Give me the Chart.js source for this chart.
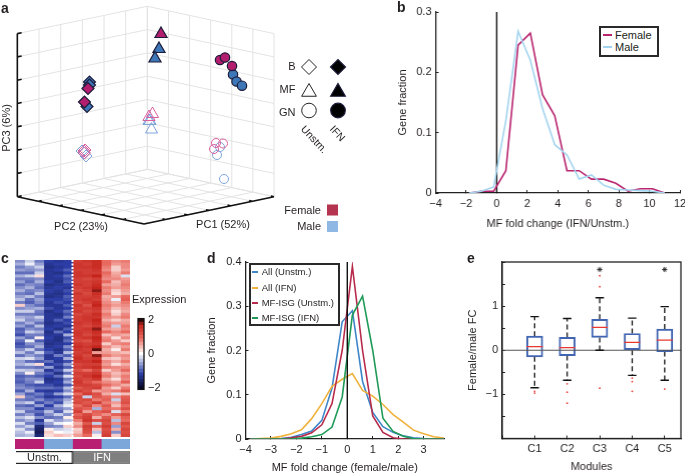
<!DOCTYPE html>
<html>
<head>
<meta charset="utf-8">
<style>
  html, body { margin: 0; padding: 0; background: #fff; }
  #page { position: relative; width: 685px; height: 473px; overflow: hidden; font-family: "Liberation Sans", Arial, sans-serif; color: #231f20; }
  #page canvas { position: absolute; }
  .txt { position: absolute; white-space: nowrap; line-height: 1; font-size: 11px; }
</style>
</head>
<body>
<div id="page"></div>
<script src="https://cdn.jsdelivr.net/npm/chart.js@4"></script>
<script>
// --- panel a: markers as they sit on the projected view
var ifnDiamondsFemale = [[88, 88.5], [84.5, 102]];
var ifnDiamondsMale = [[89.5, 82], [87, 106.5], [89.5, 85]];
var ifnTrianglesFemale = [[161, 34]];
var ifnTrianglesMale = [[159, 49], [155, 58.5]];
var ifnCirclesFemale = [[220, 60], [225, 57.5], [232, 66]];
var ifnCirclesMale = [[233, 74.5], [236.5, 81.5], [242, 85.7]];
var unstmDiamondsFemale = [[84, 151], [85, 150], [84.5, 153]];
var unstmDiamondsMale = [[82, 151], [86, 156], [84, 153]];
var unstmTrianglesFemale = [[152.5, 114], [149, 117]];
var unstmTrianglesMale = [[150, 121], [151.5, 129.5], [149, 121]];
var unstmCirclesFemale = [[216, 143], [223, 143.5], [214, 149]];
var unstmCirclesMale = [[220, 147], [217, 155], [224, 179]];
var pc1Ticks = [0, 1, 2, 3, 4, 5, 6];
var pc2Ticks = [0, 1, 2, 3, 4, 5, 6];
var pc3Ticks = [0, 1, 2, 3, 4, 5, 6, 7];

// --- panel b
var foldBins = [-1.8, -1, -0.2, 0.6, 1.4, 2.2, 3, 3.8, 4.6, 5.4, 6.2, 7, 7.8, 8.6, 9.4, 10.2, 11];
var femaleFraction = [0, 0.003, 0.003, 0.037, 0.245, 0.265, 0.163, 0.128, 0.037, 0.037, 0.023, 0.023, 0.016, 0.003, 0.007, 0.007, 0];
var maleFraction = [0, 0.003, 0.01, 0.12, 0.268, 0.22, 0.14, 0.08, 0.063, 0.023, 0.03, 0.013, 0.006, 0.005, 0.004, 0.003, 0];

// --- panel c: expression, in tenths (columns: female/male unstm., female/male IFN)
var heatTenths = [
  [-7,-3,-8,-12,-13,-12,14,15,16,9,7,8],
  [-5,-1,-6,-13,-12,-12,15,14,16,9,6,7],
  [-8,-6,-3,-14,-13,-12,15,15,16,8,3,7],
  [-6,-7,-6,-13,-12,-10,14,14,15,7,3,6],
  [-9,-9,-3,-13,-14,-12,15,14,14,9,5,8],
  [-5,-3,2,-13,-12,-9,15,15,17,8,6,-2],
  [-8,-8,-7,-13,-13,-11,14,13,14,7,7,6],
  [-6,-9,-5,-12,-14,-10,14,14,15,9,4,7],
  [-9,-7,-8,-14,-13,-12,15,14,16,6,5,8],
  [-7,-5,-9,-13,-12,-13,14,15,17,8,6,7],
  [-5,-8,-7,-12,-13,-11,13,14,18,7,3,6],
  [-8,-9,-4,-13,-14,-12,15,13,16,8,2,5],
  [-6,-4,-8,-14,-13,-10,14,14,15,5,6,9],
  [-4,-9,-6,-12,-12,-11,14,15,14,6,-1,10],
  [-8,-10,-7,-13,-11,-12,13,14,16,7,5,8],
  [3,-7,-9,-13,-13,-10,15,12,17,8,6,7],
  [-7,-6,-5,-11,-13,-12,14,14,15,7,4,6],
  [-3,-3,-8,-14,-12,-9,15,13,14,6,2,5],
  [-8,-8,-9,-13,-14,-11,13,14,16,8,3,7],
  [-5,-6,-3,-13,-13,-8,14,15,15,7,6,8],
  [-3,-7,-6,-13,-10,-12,14,15,17,5,3,5],
  [-8,-5,-9,-14,-13,-11,15,14,16,7,6,6],
  [-6,-9,-4,-13,-12,-13,14,13,15,8,-3,8],
  [-10,-7,-8,-12,-14,-10,14,15,18,6,5,7],
  [-9,-3,-5,-14,-9,-12,15,14,16,9,7,9],
  [-11,-8,-8,-13,-13,-5,15,13,15,4,6,5],
  [-6,-9,1,-12,-14,-11,14,15,17,7,2,7],
  [-9,-1,-10,-13,-14,-9,13,12,16,8,6,3],
  [-11,-7,-7,-14,-13,-12,15,14,15,3,7,8],
  [-10,-9,-5,-13,-12,-7,16,15,17,7,4,6],
  [-7,-3,-9,-12,-14,-10,15,14,19,5,1,8],
  [-4,-8,-3,-10,-13,-4,14,15,6,6,5,4],
  [-9,-6,-8,-13,-8,-10,15,13,18,8,6,7],
  [-3,-2,-6,-13,-12,-5,16,14,15,4,3,6],
  [-6,-9,-10,-9,-13,-11,15,15,17,7,5,8],
  [-5,-3,2,-12,-11,-6,13,14,14,6,2,5],
  [-8,-8,-9,-6,-13,-10,14,15,16,8,7,7],
  [-3,-4,-5,-13,-10,-3,12,9,13,3,6,9],
  [-7,1,-8,-10,-14,-9,14,14,15,7,4,6],
  [-10,-9,-10,-12,-9,-2,13,15,17,8,5,8],
  [-9,-7,-7,-14,-13,-8,14,13,15,5,2,7],
  [-10,-8,-3,-13,-12,-5,15,12,9,7,6,10],
  [-8,-10,-11,-11,-13,-10,14,14,13,9,7,5],
  [-7,-8,-9,-9,-10,-4,11,13,14,6,3,8],
  [-10,-5,-12,-13,-12,-7,14,12,6,7,8,11],
  [-6,-10,-8,-11,-6,-2,9,14,12,5,-2,4],
  [3,-8,-10,-13,-12,-9,13,-3,11,9,7,10],
  [-8,-9,-7,-10,-9,-5,12,13,8,10,-3,11],
  [-5,-3,-11,-8,-11,-3,13,11,14,8,6,12],
  [-9,-10,-6,-12,-5,-1,9,13,7,11,4,9],
  [-7,-7,-12,-9,-8,-6,12,10,-5,9,8,12],
  [-3,-9,-9,-4,-10,-2,14,6,10,12,-2,8],
  [-8,-6,-11,-7,-3,-7,10,13,9,7,10,13],
  [-4,-2,-7,-9,-8,1,12,14,5,11,6,10],
  [-7,-5,-13,-2,-6,-4,8,15,12,13,-4,9],
  [-2,-8,-10,-6,-1,0,5,11,-3,12,7,13],
  [-6,-3,-15,-8,-7,3,7,14,10,14,-6,11],
  [-2,-7,-16,1,-3,-2,3,13,4,12,5,13],
  [-4,-1,-17,3,0,-1,4,12,-4,13,-7,12],
  [-5,-4,-15,2,4,3,6,9,1,14,3,13]
];
var stripColors = ['#b81f72', '#7ba7db', '#b81f72', '#7ba7db'];
var stripSpans = [3, 3, 3, 3];
var conditionSpans = [6, 6];
var conditionNames = ['Unstm.', 'IFN'];
var colorbarLevels = [2, 1.8, 1.6, 1.4, 1.2, 1, 0.8, 0.6, 0.4, 0.2, 0, -0.2, -0.4, -0.6, -0.8, -1, -1.2, -1.4, -1.6, -1.8, -2];

// --- panel d
var ratioBins = [-3.8, -3.4, -3, -2.6, -2.2, -1.8, -1.4, -1, -0.6, -0.2, 0.2, 0.6, 1, 1.4, 1.8, 2.2, 2.6, 3, 3.4, 3.8];
var allUnstm = [0, 0, 0, 0.001, 0.004, 0.01, 0.018, 0.042, 0.115, 0.265, 0.29, 0.13, 0.06, 0.028, 0.015, 0.007, 0.003, 0.001, 0, 0];
var allIfn = [0, 0.001, 0.002, 0.006, 0.012, 0.021, 0.046, 0.08, 0.119, 0.135, 0.148, 0.11, 0.097, 0.078, 0.055, 0.038, 0.02, 0.012, 0.005, 0.002];
var isgUnstm = [0, 0, 0, 0, 0.003, 0.006, 0.014, 0.032, 0.08, 0.2, 0.39, 0.2, 0.052, 0.015, 0.003, 0, 0, 0, 0, 0];
var isgIfn = [0, 0, 0, 0, 0, 0.002, 0.005, 0.01, 0.027, 0.095, 0.28, 0.323, 0.2, 0.047, 0.017, 0.006, 0.001, 0, 0, 0];

// --- panel e
var modules = ['C1', 'C2', 'C3', 'C4', 'C5'];
var boxQ1 = [-0.15, -0.12, 0.29, 0, -0.03];
var boxQ3 = [0.32, 0.29, 0.7, 0.38, 0.48];
var boxMedian = [0.08, 0.06, 0.52, 0.18, 0.23];
var whiskerHigh = [0.76, 0.72, 1.19, 0.73, 0.99];
var whiskerLow = [-0.85, -0.68, 0, -0.57, -0.68];
var outliers = [[-0.93, -0.97], [-0.76, -0.95, -1.2], [1.69, 1.44, -0.86], [-0.63, -0.71, -0.93], [-0.88]];
var starModules = [3, 5];
var starLevel = 1.83;

var page = document.getElementById('page');
var INK = '#231f20';
var GAP = { x: NaN, y: NaN };

Chart.defaults.font.family = '"Liberation Sans", Arial, sans-serif';
Chart.defaults.font.size = 11;
Chart.defaults.color = INK;
Chart.defaults.animation = false;
Chart.defaults.responsive = false;
Chart.defaults.devicePixelRatio = 1;
Chart.defaults.layout.autoPadding = false;
Chart.defaults.plugins.legend.display = false;
Chart.defaults.plugins.tooltip.enabled = false;

function addCanvas(x, y, w, h) {
  var c = document.createElement('canvas');
  c.width = w; c.height = h;
  c.style.left = x + 'px'; c.style.top = y + 'px';
  c.style.width = w + 'px'; c.style.height = h + 'px';
  page.appendChild(c);
  return c;
}

// text placed on the page; anchor l/c/r, rot in degrees
function putText(t, x, y, o) {
  o = o || {};
  var d = document.createElement('div');
  d.className = 'txt';
  d.textContent = t;
  d.style.left = x + 'px'; d.style.top = y + 'px';
  if (o.size) d.style.fontSize = o.size + 'px';
  if (o.bold) d.style.fontWeight = 'bold';
  if (o.color) d.style.color = o.color;
  var shift = o.anchor === 'r' ? '-100%' : o.anchor === 'c' ? '-50%' : '0';
  d.style.transformOrigin = o.anchor === 'l' || !o.anchor ? '0 50%' : '50% 50%';
  d.style.transform = 'translate(' + shift + ',-50%)' + (o.rot ? ' rotate(' + o.rot + 'deg)' : '');
  page.appendChild(d);
}

function boxedLegend(box, items, o) {
  var d = document.createElement('div');
  d.style.cssText = 'position:absolute;box-sizing:border-box;background:#fff;border:2px solid #2a2a2a;left:' + box[0] + 'px;top:' + box[1] + 'px;width:' + (box[2] - box[0]) + 'px;height:' + (box[3] - box[1]) + 'px';
  page.appendChild(d);
  items.forEach(function (it, i) {
    var s = document.createElement('div');
    s.style.cssText = 'position:absolute;height:2px;background:' + it.color + ';left:' + o.lineX + 'px;width:' + o.lineW + 'px;top:' + Math.round(o.rows[i] - 1) + 'px';
    page.appendChild(s);
    putText(it.name, o.textX, o.rows[i], { size: o.size });
  });
}

// chart whose plot area lands exactly on the given page rectangle
function plotChart(area, leftRoom, bottomRoom, config) {
  var cx = area[0] - leftRoom, cy = area[1] - 20;
  var canvas = addCanvas(cx, cy, area[2] - area[0] + leftRoom + 20, area[3] - area[1] + 20 + bottomRoom);
  config.options.layout = { padding: { left: 0, top: 20, right: 20, bottom: 0 } };
  config.options.scales.x.afterFit = function (s) { s.height = bottomRoom; };
  config.options.scales.y.afterFit = function (s) { s.width = leftRoom; };
  return new Chart(canvas, config);
}

function curve(xs, ys, color, label) {
  return { label: label, data: xs.map(function (x, i) { return { x: x, y: ys[i] }; }), showLine: true, borderColor: color, borderWidth: 1.6, pointRadius: 0, fill: false };
}
function zeroLine(top) {
  return { data: [{ x: 0, y: 0 }, { x: 0, y: top }], showLine: true, borderColor: '#111', borderWidth: 1.4, pointRadius: 0 };
}
function axisStyle(extra) {
  var s = {
    border: { display: true, color: '#222', width: 1.3 },
    grid: { drawOnChartArea: false, color: '#222', lineWidth: 1, tickLength: -3 },
    ticks: { padding: 7, color: INK, maxRotation: 0, font: { size: 11 } }
  };
  for (var k in extra) s[k] = extra[k];
  return s;
}
function minusTick(v) {
  return String(v).replace('-', '\u2212');
}

// ---------- panel a
var proj = function (a, b, c) {
  return { x: 144 + a * 21.67 - b * 21.11, y: 224 - (a + b) * 4.55 - c * 23.3 };
};
function segs(list) {
  var out = [];
  list.forEach(function (s) { out.push(s[0], s[1], GAP); });
  return out;
}
var gridSegs = [];
pc1Ticks.forEach(function (a) {
  gridSegs.push([proj(a, 0, 0), proj(a, 6, 0)]);          // floor
  gridSegs.push([proj(a, 6, 0), proj(a, 6, 7)]);          // left wall
});
pc2Ticks.forEach(function (b) {
  gridSegs.push([proj(0, b, 0), proj(6, b, 0)]);          // floor
  gridSegs.push([proj(6, b, 0), proj(6, b, 7)]);          // right wall
});
pc3Ticks.forEach(function (c) {
  gridSegs.push([proj(0, 6, c), proj(6, 6, c)]);
  gridSegs.push([proj(6, 6, c), proj(6, 0, c)]);
});
var axisSegs = [
  [proj(0, 6, 0), proj(0, 6, 7)],
  [proj(0, 0, 0), proj(0, 6, 0)],
  [proj(0, 0, 0), proj(6, 0, 0)]
];
pc3Ticks.forEach(function (c) { axisSegs.push([proj(0, 6, c), proj(0.2, 6, c)]); });
pc2Ticks.forEach(function (b) { axisSegs.push([proj(0, b, 0), proj(0.15, b, 0)]); });
pc1Ticks.forEach(function (a) { axisSegs.push([proj(a, 0, 0), proj(a, 0.15, 0)]); });

var PINK = '#b31e6f', BLUE = '#3d77b8', PINK_OPEN = '#d9609f', BLUE_OPEN = '#7da5dc', EDGE = '#1d1c3a';
function pts(list) { return list.map(function (p) { return { x: p[0], y: p[1] }; }); }
function solid(list, style, r, color, edge) {
  return { type: 'scatter', data: pts(list), pointStyle: style, pointRadius: r, pointBackgroundColor: color, pointBorderColor: edge || EDGE, pointBorderWidth: edge ? 0 : 1.2 };
}
function hollow(list, style, r, color) {
  return { type: 'scatter', data: pts(list), pointStyle: style, pointRadius: r, pointBackgroundColor: 'rgba(255,255,255,0)', pointBorderColor: color, pointBorderWidth: 1 };
}
new Chart(addCanvas(0, 0, 360, 240), {
  type: 'scatter',
  data: {
    datasets: [
      solid([[338, 67]], 'rectRot', 7.5, '#000'),
      solid([[338, 92]], 'triangle', 8.5, '#000'),
      solid([[338, 110.5]], 'circle', 7.3, '#000'),
      hollow([[309, 67]], 'rectRot', 7.5, '#222'),
      hollow([[309, 92]], 'triangle', 8.5, '#222'),
      hollow([[309, 110.5]], 'circle', 7.3, '#222'),
      solid([[332.5, 210]], 'rect', 7.8, '#b5344f', '#b5344f'),
      solid([[332.5, 226.5]], 'rect', 7.8, '#8fb8e4', '#8fb8e4'),
      solid(ifnDiamondsFemale, 'rectRot', 6, PINK),
      solid(ifnDiamondsMale, 'rectRot', 6, BLUE),
      solid(ifnTrianglesFemale, 'triangle', 7, PINK),
      solid(ifnTrianglesMale, 'triangle', 7, BLUE),
      solid(ifnCirclesFemale, 'circle', 4.7, PINK),
      solid(ifnCirclesMale, 'circle', 4.7, BLUE),
      hollow(unstmDiamondsFemale, 'rectRot', 6, PINK_OPEN),
      hollow(unstmDiamondsMale, 'rectRot', 6, BLUE_OPEN),
      hollow(unstmTrianglesFemale, 'triangle', 7, PINK_OPEN),
      hollow(unstmTrianglesMale, 'triangle', 7, BLUE_OPEN),
      hollow(unstmCirclesFemale, 'circle', 4.5, PINK_OPEN),
      hollow(unstmCirclesMale, 'circle', 4.5, BLUE_OPEN),
      { data: segs(axisSegs), showLine: true, borderColor: '#111', borderWidth: 1.6, pointRadius: 0 },
      { data: segs(gridSegs), showLine: true, borderColor: '#e3e3e3', borderWidth: 1, pointRadius: 0 }
    ]
  },
  options: {
    clip: false,
    layout: { padding: 0 },
    scales: {
      x: { type: 'linear', display: false, min: 0, max: 360 },
      y: { type: 'linear', display: false, min: 0, max: 240, reverse: true }
    }
  }
});
putText('a', 1, 8, { size: 14, bold: true });
putText('PC2 (23%)', 81, 226, { anchor: 'c' });
putText('PC1 (52%)', 223, 224, { anchor: 'c' });
putText('PC3 (6%)', 6, 128, { anchor: 'c', rot: -90 });
putText('B', 295.5, 65.5, { anchor: 'r' });
putText('MF', 295.5, 88.5, { anchor: 'r' });
putText('GN', 295.5, 111.5, { anchor: 'r' });
putText('Unstm.', 303, 127, { rot: 47, size: 10.5 });
putText('IFN', 332, 127, { rot: 47, size: 10.5 });
putText('Female', 321, 209.5, { anchor: 'r' });
putText('Male', 321, 226, { anchor: 'r' });

// ---------- panel b
plotChart([435.7, 12.3, 679.7, 193.3], 39.5, 38, {
  type: 'scatter',
  data: {
    datasets: [
      curve(foldBins, maleFraction, '#a3d4ef', 'Male'),
      curve(foldBins, femaleFraction, '#b8246f', 'Female'),
      zeroLine(0.3)
    ]
  },
  options: {
    scales: {
      x: axisStyle({ type: 'linear', min: -4, max: 12, ticks: { padding: 7, maxRotation: 0, stepSize: 2, callback: minusTick },
        title: { display: true, text: 'MF fold change (IFN/Unstm.)', padding: 0, color: INK, font: { size: 11 } } }),
      y: axisStyle({ min: 0, max: 0.3, ticks: { padding: 7, stepSize: 0.1, callback: function (v) { return v === 0 ? '0' : v.toFixed(1); } },
        title: { display: true, text: 'Gene fraction', padding: 0, color: INK, font: { size: 11 } } })
    }
  }
});
putText('b', 397, 7, { size: 14, bold: true });
boxedLegend([598.7, 25.7, 658.7, 57.3], [{ name: 'Female', color: '#b8246f' }, { name: 'Male', color: '#a3d4ef' }], { lineX: 603.3, lineW: 8.5, textX: 615, rows: [35, 47], size: 11 });

// ---------- panel c
var heatStops = [[-2, [8, 8, 40]], [-1.2, [44, 62, 166]], [0, [255, 255, 255]], [0.9, [232, 105, 95]], [1.7, [196, 36, 28]], [2, [40, 6, 6]]];
function heatColor(v) {
  v = Math.max(-2, Math.min(2, v));
  for (var i = 1; i < heatStops.length; i++) {
    if (v <= heatStops[i][0]) {
      var a = heatStops[i - 1], b = heatStops[i], t = (v - a[0]) / (b[0] - a[0]);
      return 'rgb(' + [0, 1, 2].map(function (k) { return Math.round(a[1][k] + (b[1][k] - a[1][k]) * t); }).join(',') + ')';
    }
  }
}
function stackedRow(x, y, w, h, spans, colors, borders) {
  return new Chart(addCanvas(x, y, w, h), {
    type: 'bar',
    data: {
      labels: [''],
      datasets: spans.map(function (s, i) {
        return { data: [s], backgroundColor: colors[i], borderColor: borders ? borders[i] : undefined, borderWidth: borders ? 1.5 : 0, barPercentage: 1, categoryPercentage: 1 };
      })
    },
    options: {
      indexAxis: 'y',
      layout: { padding: 0 },
      scales: {
        x: { stacked: true, display: false, min: 0, max: spans.reduce(function (a, b) { return a + b; }, 0) },
        y: { stacked: true, display: false }
      }
    }
  });
}
var heatColumns = heatTenths[0].map(function (_, col) {
  return {
    data: heatTenths.map(function () { return 1; }),
    backgroundColor: heatTenths.map(function (row) { return heatColor(row[col] / 10); }),
    borderWidth: 0, barPercentage: 1, categoryPercentage: 1
  };
});
var dottedDivide = {
  id: 'dottedDivide',
  afterDatasetsDraw: function (chart) {
    var c = chart.ctx, xp = chart.scales.x.getPixelForValue(6);
    c.save();
    c.strokeStyle = '#fff'; c.lineWidth = 2; c.setLineDash([2, 1.5]);
    c.beginPath(); c.moveTo(xp, chart.chartArea.top); c.lineTo(xp, chart.chartArea.bottom); c.stroke();
    c.restore();
  }
};
new Chart(addCanvas(15.3, 260, 115, 177), {
  type: 'bar',
  data: { labels: heatTenths.map(function (_, i) { return i + 1; }), datasets: heatColumns },
  options: {
    indexAxis: 'y',
    layout: { padding: 0 },
    scales: {
      x: { stacked: true, display: false, min: 0, max: 12 },
      y: { stacked: true, display: false }
    }
  },
  plugins: [dottedDivide]
});
stackedRow(15.3, 439, 115, 10, stripSpans, stripColors);
stackedRow(16.3, 450.5, 113.5, 13, conditionSpans, ['#fff', '#7f7f7f'], ['#222', '#7f7f7f']);
putText(conditionNames[0], 44.5, 457, { anchor: 'c' });
putText(conditionNames[1], 102, 457, { anchor: 'c', color: '#fff' });
putText('c', 1, 258, { size: 14, bold: true });
putText('Expression', 132, 299, { size: 11 });

var barFrame = {
  id: 'barFrame',
  afterDraw: function (chart) {
    var a = chart.chartArea, c = chart.ctx;
    c.save(); c.strokeStyle = '#111'; c.lineWidth = 1.3;
    c.strokeRect(a.left, a.top, a.right - a.left, a.bottom - a.top);
    c.restore();
  }
};
new Chart(addCanvas(137, 308, 30, 92), {
  type: 'bar',
  data: {
    labels: colorbarLevels,
    datasets: [{ data: colorbarLevels.map(function () { return 1; }), backgroundColor: colorbarLevels.map(heatColor), borderWidth: 0, barPercentage: 1, categoryPercentage: 1 }]
  },
  options: {
    indexAxis: 'y',
    layout: { padding: { left: 1, top: 8, bottom: 7, right: 0 } },
    scales: {
      x: { display: false, min: 0, max: 1 },
      y: {
        position: 'right',
        grid: { display: false, drawTicks: false },
        border: { display: false },
        afterFit: function (s) { s.width = 23; },
        ticks: {
          autoSkip: false, padding: 4, color: INK, font: { size: 11 },
          callback: function (value, i) {
            var lv = colorbarLevels[i];
            return lv === 2 || lv === 0 || lv === -2 ? minusTick(lv) : '';
          }
        }
      }
    }
  },
  plugins: [barFrame]
});

// ---------- panel d
plotChart([245.7, 261.7, 444.3, 439], 40.5, 36, {
  type: 'scatter',
  data: {
    datasets: [
      zeroLine(0.4),
      curve(ratioBins, isgIfn, '#1f9a57', 'MF-ISG (IFN)'),
      curve(ratioBins, isgUnstm, '#b82a4c', 'MF-ISG (Unstm.)'),
      curve(ratioBins, allIfn, '#f0b23c', 'All (IFN)'),
      curve(ratioBins, allUnstm, '#3f86c9', 'All (Unstm.)')
    ]
  },
  options: {
    scales: {
      x: axisStyle({ type: 'linear', min: -4, max: 3.8, ticks: { padding: 7, maxRotation: 0, stepSize: 1, includeBounds: false, callback: minusTick },
        title: { display: true, text: 'MF fold change (female/male)', padding: 0, color: INK, font: { size: 11 } } }),
      y: axisStyle({ min: 0, max: 0.4, ticks: { padding: 7, stepSize: 0.1, callback: function (v) { return v === 0 ? '0' : v.toFixed(1); } },
        title: { display: true, text: 'Gene fraction', padding: 0, color: INK, font: { size: 11 } } })
    }
  }
});
putText('d', 207, 258, { size: 14, bold: true });
boxedLegend([248.7, 263.3, 340, 325.7], [
  { name: 'All (Unstm.)', color: '#3f86c9' },
  { name: 'All (IFN)', color: '#f0b23c' },
  { name: 'MF-ISG (Unstm.)', color: '#b82a4c' },
  { name: 'MF-ISG (IFN)', color: '#1f9a57' }
], { lineX: 251.7, lineW: 6.8, textX: 261.7, rows: [272, 287.7, 303.3, 318.3], size: 9.5 });

// ---------- panel e
var moduleX = modules.map(function (_, i) { return i + 1; });
var whiskers = [];
moduleX.forEach(function (x, i) {
  [[boxQ3[i], whiskerHigh[i]], [boxQ1[i], whiskerLow[i]]].forEach(function (w) {
    whiskers.push({ type: 'scatter', data: [{ x: x, y: w[0] }, { x: x, y: w[1] }], showLine: true, borderColor: '#111', borderWidth: 1.3, borderDash: [5, 3], pointRadius: 0 });
  });
});
var outlierPts = [];
outliers.forEach(function (list, i) { list.forEach(function (v) { outlierPts.push({ x: moduleX[i], y: v }); }); });
var frame = {
  id: 'frame',
  afterDraw: function (chart) {
    var a = chart.chartArea, c = chart.ctx;
    c.save(); c.strokeStyle = '#222'; c.lineWidth = 1.3;
    c.strokeRect(a.left, a.top, a.right - a.left, a.bottom - a.top);
    c.restore();
  }
};
plotChart([502.3, 261.7, 680.7, 439], 36, 35.5, {
  type: 'bar',
  data: {
    datasets: [
      { type: 'scatter', data: moduleX.map(function (x, i) { return { x: x, y: boxMedian[i] }; }), pointStyle: 'line', pointRadius: 8, pointBorderColor: '#e8382f', pointBorderWidth: 1.3 },
      { type: 'scatter', data: moduleX.map(function (x, i) { return { x: x, y: whiskerHigh[i] }; }), pointStyle: 'line', pointRadius: 4.2, pointBorderColor: '#111', pointBorderWidth: 1.3 },
      { type: 'scatter', data: moduleX.map(function (x, i) { return { x: x, y: whiskerLow[i] }; }), pointStyle: 'line', pointRadius: 4.2, pointBorderColor: '#111', pointBorderWidth: 1.3 },
      { type: 'scatter', data: outlierPts, pointStyle: 'circle', pointRadius: 0.9, pointBackgroundColor: '#e8382f', pointBorderWidth: 0 },
      { type: 'scatter', data: starModules.map(function (m) { return { x: m, y: starLevel }; }), pointStyle: 'star', pointRadius: 2.6, pointBorderColor: '#222', pointBorderWidth: 0.9 },
      { type: 'scatter', data: [{ x: 0, y: 0 }, { x: 5.5, y: 0 }], showLine: true, borderColor: '#555', borderWidth: 1.2, pointRadius: 0 },
      { type: 'bar', data: moduleX.map(function (x, i) { return { x: x, y: [boxQ1[i], boxQ3[i]] }; }), backgroundColor: 'rgba(255,255,255,0)', borderColor: '#4165b2', borderWidth: 1.3, barThickness: 16, borderSkipped: false }
    ].concat(whiskers)
  },
  options: {
    scales: {
      x: axisStyle({ type: 'linear', offset: false, min: 0, max: 5.5,
        grid: { offset: false, drawOnChartArea: false, color: '#222', lineWidth: 1, tickLength: -3 },
        ticks: { padding: 7, maxRotation: 0, stepSize: 1, includeBounds: false, callback: function (v) { return modules[v - 1] || ''; } },
        title: { display: true, text: 'Modules', padding: 0, color: INK, font: { size: 11 } } }),
      y: axisStyle({ min: -2, max: 2, ticks: { padding: 7, stepSize: 0.5, autoSkip: false, callback: function (v) { return v === 0 || Math.abs(v) === 1 ? minusTick(v) : ''; } },
        title: { display: true, text: 'Female/male FC', padding: 0, color: INK, font: { size: 11 } } })
    }
  },
  plugins: [frame]
});
putText('e', 467, 258, { size: 14, bold: true });
</script>
</body>
</html>
